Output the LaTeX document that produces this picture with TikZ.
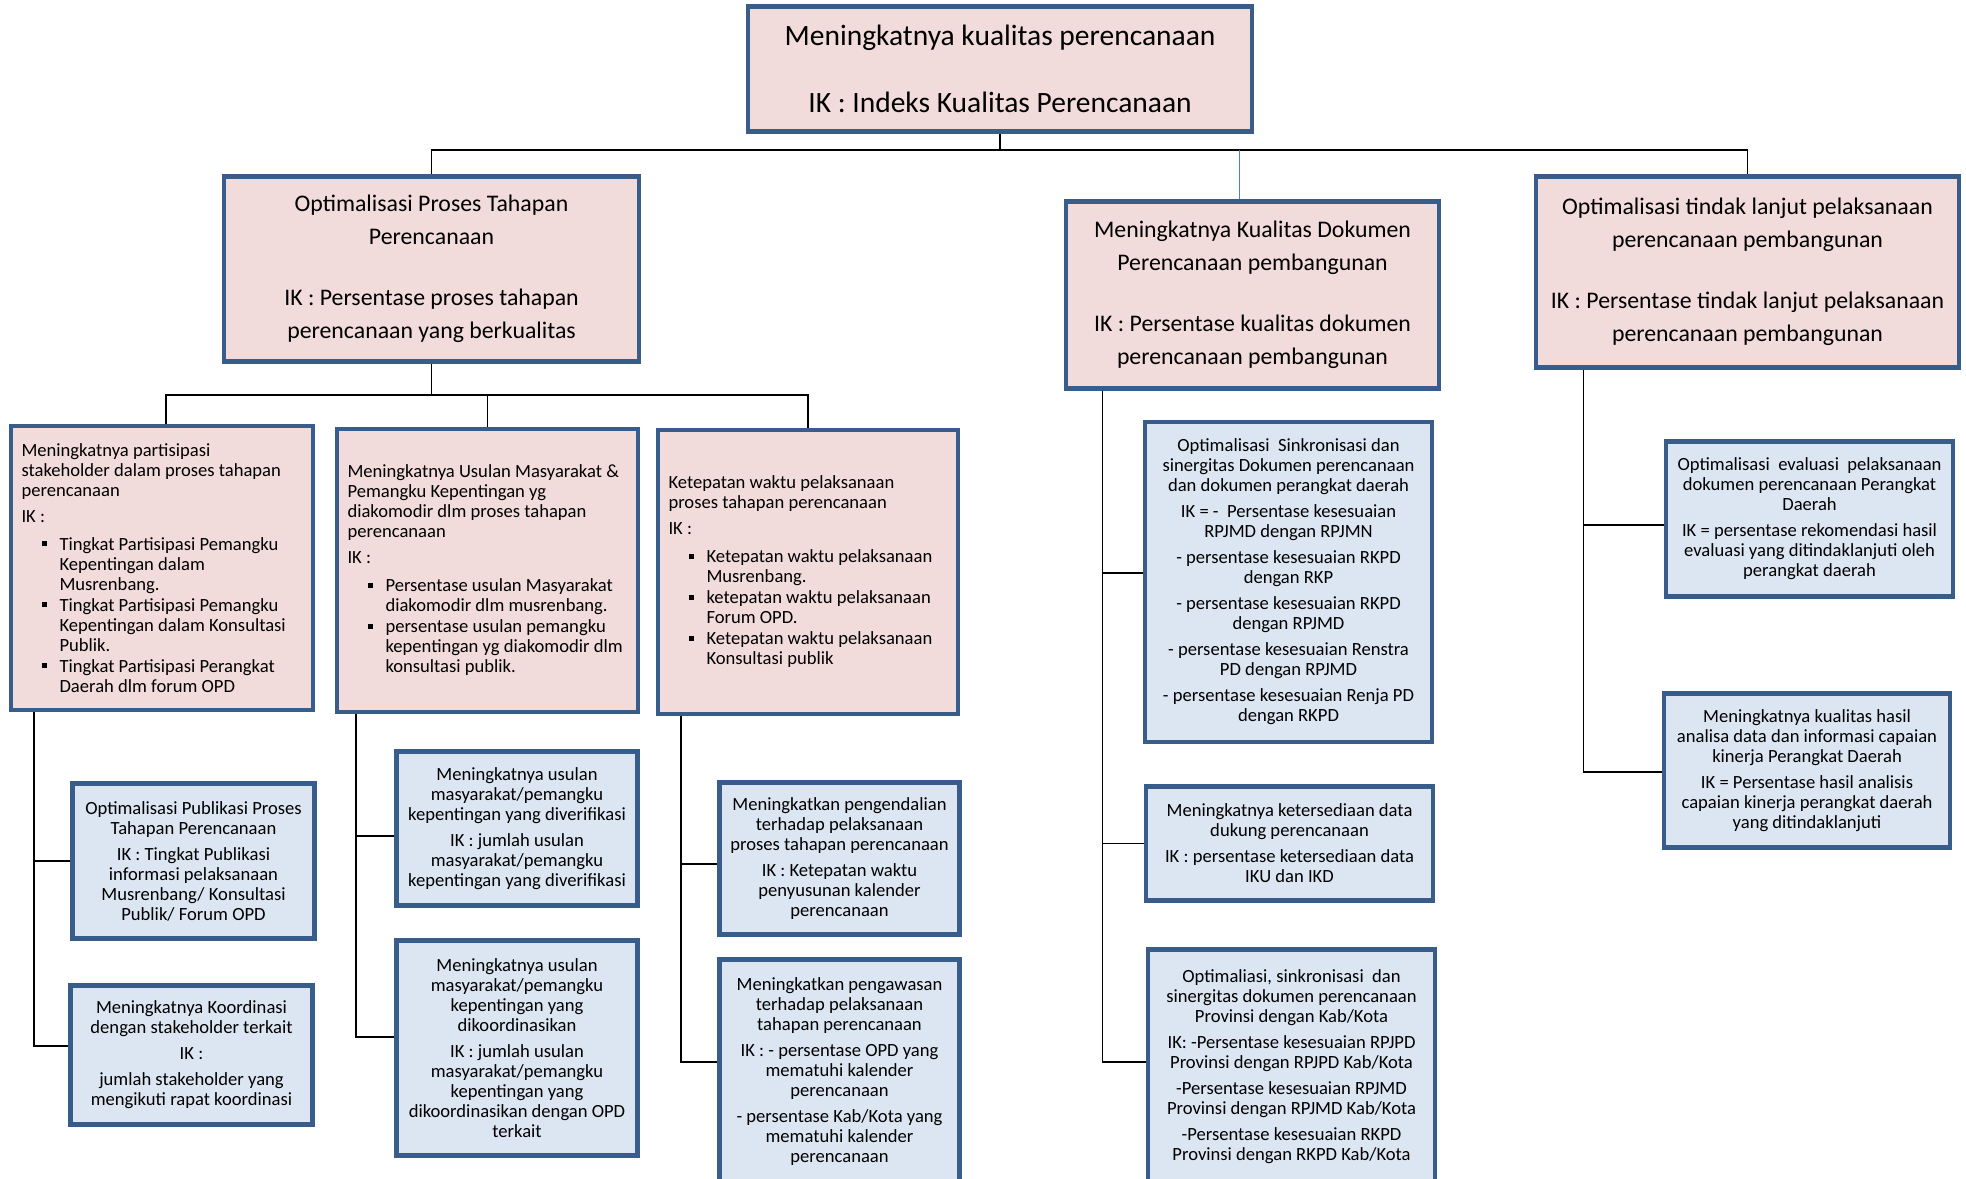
\documentclass[tikz,border=0pt]{standalone}
\usepackage{fontspec}
\setmainfont{Carlito}
\usepackage{tikz}
\usetikzlibrary{calc, positioning}

\definecolor{tepi}{HTML}{385D8A}
\definecolor{merahmuda}{HTML}{F2DCDB}
\definecolor{birumuda}{HTML}{DCE6F2}
\definecolor{garisbiru}{HTML}{4F81BD}

\newcommand{\butir}{\hspace*{20bp}\rule[4bp]{5bp}{5bp}\hspace*{13bp}}
\newcommand{\sambung}{\hspace*{38bp}}

\begin{document}
\begin{tikzpicture}[x=1bp, y=-1bp,
    kotak/.style={draw=tepi, line width=4.5bp, inner sep=0pt},
    atas/.style={kotak, fill=merahmuda, align=center, font=\fontsize{29.5bp}{37bp}\selectfont},
    tengah/.style={kotak, fill=merahmuda, align=center, font=\fontsize{23.8bp}{33bp}\selectfont},
    rincian/.style={kotak, fill=merahmuda, align=flush left, font=\fontsize{18.6bp}{20bp}\selectfont},
    biru/.style={kotak, fill=birumuda, align=center, font=\fontsize{18.6bp}{20bp}\selectfont},
    garis/.style={draw=black, line width=1.8bp},
    tipis/.style={draw=garisbiru, line width=1.2bp}]

    \useasboundingbox (0,0) rectangle (1966,1178);
    \clip (0,0) rectangle (1966,1178);

    % 1. Tujuan utama
    \node[atas, minimum width=505.5, minimum height=125.5] (top) at (1000,69)
        {Meningkatnya kualitas perencanaan\\[30bp]IK : Indeks Kualitas Perencanaan};

    % 2. Sasaran tingkat kedua
    \node[tengah, minimum width=416.5, minimum height=185.5] (A) at (431.5,269)
        {Optimalisasi Proses Tahapan\\Perencanaan\\[28bp]IK : Persentase proses tahapan\\perencanaan yang berkualitas};
    \node[tengah, minimum width=374.5, minimum height=187.5] (B) at (1252.5,295)
        {Meningkatnya Kualitas Dokumen\\Perencanaan pembangunan\\[28bp]IK : Persentase kualitas dokumen\\perencanaan pembangunan};
    \node[tengah, minimum width=424.5, minimum height=191.5] (C) at (1747.5,272)
        {Optimalisasi tindak lanjut pelaksanaan\\perencanaan pembangunan\\[28bp]IK : Persentase tindak lanjut pelaksanaan\\perencanaan pembangunan};

    % 3. Rincian di bawah A (rata kiri, berpoin)
    \node[rincian, minimum width=303.5, minimum height=285.5, text width=282] (A1) at (162,568)
        {Meningkatnya partisipasi\\stakeholder dalam proses tahapan\\perencanaan\\[6bp]
         IK :\\[8bp]
         \butir Tingkat Partisipasi Pemangku\\\sambung Kepentingan dalam\\\sambung Musrenbang.\\[1bp]
         \butir Tingkat Partisipasi Pemangku\\\sambung Kepentingan dalam Konsultasi\\\sambung Publik.\\[1bp]
         \butir Tingkat Partisipasi Perangkat\\\sambung Daerah dlm forum OPD};
    \node[rincian, minimum width=302.5, minimum height=284.5, text width=281] (A2) at (487.5,570.5)
        {Meningkatnya Usulan Masyarakat \&\\Pemangku Kepentingan yg\\diakomodir dlm proses tahapan\\perencanaan\\[6bp]
         IK :\\[8bp]
         \butir Persentase usulan Masyarakat\\\sambung diakomodir dlm musrenbang.\\[1bp]
         \butir persentase usulan pemangku\\\sambung kepentingan yg diakomodir dlm\\\sambung konsultasi publik.};
    \node[rincian, minimum width=301.5, minimum height=285.5, text width=280] (A3) at (808,572)
        {Ketepatan waktu pelaksanaan\\proses tahapan perencanaan\\[6bp]
         IK :\\[8bp]
         \butir Ketepatan waktu pelaksanaan\\\sambung Musrenbang.\\[1bp]
         \butir ketepatan waktu pelaksanaan\\\sambung Forum OPD.\\[1bp]
         \butir Ketepatan waktu pelaksanaan\\\sambung Konsultasi publik};

    % 4. Kotak biru tingkat bawah
    \node[biru, minimum width=242.5, minimum height=155.5] (A1a) at (193.5,861)
        {Optimalisasi Publikasi Proses\\Tahapan Perencanaan\\[6bp]IK : Tingkat Publikasi\\informasi pelaksanaan\\Musrenbang/ Konsultasi\\Publik/ Forum OPD};
    \node[biru, minimum width=242.5, minimum height=139.5] (A1b) at (191.5,1055)
        {Meningkatnya Koordinasi\\dengan stakeholder terkait\\[6bp]IK :\\[6bp]jumlah stakeholder yang\\mengikuti rapat koordinasi};
    \node[biru, minimum width=241.5, minimum height=154.5] (A2a) at (517,828.5)
        {Meningkatnya usulan\\masyarakat/pemangku\\kepentingan yang diverifikasi\\[6bp]IK : jumlah usulan\\masyarakat/pemangku\\kepentingan yang diverifikasi};
    \node[biru, minimum width=241.5, minimum height=215.5] (A2b) at (517,1048)
        {Meningkatnya usulan\\masyarakat/pemangku\\kepentingan yang\\dikoordinasikan\\[6bp]IK : jumlah usulan\\masyarakat/pemangku\\kepentingan yang\\dikoordinasikan dengan OPD\\terkait};
    \node[biru, minimum width=240.5, minimum height=152.5] (A3a) at (839.5,858.5)
        {Meningkatkan pengendalian\\terhadap pelaksanaan\\proses tahapan perencanaan\\[6bp]IK : Ketepatan waktu\\penyusunan kalender\\perencanaan};
    \node[biru, minimum width=240.5, minimum height=224.5] (A3b) at (839.5,1071.5)
        {Meningkatkan pengawasan\\terhadap pelaksanaan\\tahapan perencanaan\\[6bp]IK : - persentase OPD yang\\mematuhi kalender\\perencanaan\\[6bp]- persentase Kab/Kota yang\\mematuhi kalender\\perencanaan};

    \node[biru, minimum width=288.5, minimum height=321.5] (B1) at (1288.5,582)
        {Optimalisasi\ \ Sinkronisasi dan\\sinergitas Dokumen perencanaan\\dan dokumen perangkat daerah\\[6bp]IK = -\ \ Persentase kesesuaian\\RPJMD dengan RPJMN\\[6bp]- persentase kesesuaian RKPD\\dengan RKP\\[6bp]- persentase kesesuaian RKPD\\dengan RPJMD\\[6bp]- persentase kesesuaian Renstra\\PD dengan RPJMD\\[6bp]- persentase kesesuaian Renja PD\\dengan RKPD};
    \node[biru, minimum width=288.5, minimum height=114.5] (B2) at (1289.5,843.5)
        {Meningkatnya ketersediaan data\\dukung perencanaan\\[6bp]IK : persentase ketersediaan data\\IKU dan IKD};
    \node[biru, minimum width=288.5, minimum height=234.5] (B3) at (1291.5,1066.5)
        {Optimaliasi, sinkronisasi\ \ dan\\sinergitas dokumen perencanaan\\Provinsi dengan Kab/Kota\\[6bp]IK: -Persentase kesesuaian RPJPD\\Provinsi dengan RPJPD Kab/Kota\\[6bp]-Persentase kesesuaian RPJMD\\Provinsi dengan RPJMD Kab/Kota\\[6bp]-Persentase kesesuaian RKPD\\Provinsi dengan RKPD Kab/Kota};

    \node[biru, minimum width=288.5, minimum height=155.5] (C1) at (1809.5,519)
        {Optimalisasi\ \ evaluasi\ \ pelaksanaan\\dokumen perencanaan Perangkat\\Daerah\\[6bp]IK = persentase rekomendasi hasil\\evaluasi yang ditindaklanjuti oleh\\perangkat daerah};
    \node[biru, minimum width=287.5, minimum height=154.5] (C2) at (1807,770.5)
        {Meningkatnya kualitas hasil\\analisa data dan informasi capaian\\kinerja Perangkat Daerah\\[6bp]IK = Persentase hasil analisis\\capaian kinerja perangkat daerah\\yang ditindaklanjuti};

    % 5. Garis penghubung
    \coordinate (h1) at (0,150);
    \coordinate (h2) at (0,395);
    \draw[garis] (top.south) -- (top.south |- h1);
    \draw[garis] (A.north) -- (A.north |- h1) -- (C.north |- h1) -- (C.north);
    \draw[tipis] ([xshift=-13bp]B.north) -- ([xshift=-13bp]B.north |- h1);
    \draw[garis] (A.south) -- (A.south |- h2);
    \draw[garis] ([xshift=4bp]A1.north) -- ([xshift=4bp]A1.north |- h2) -- (A3.north |- h2) -- (A3.north);
    \draw[garis] (A2.north) -- (A2.north |- h2);

    \foreach \induk/\dx/\anak/\dy in {A1/25.75/A1a/0, A1/25.75/A1b/9, A2/21.75/A2a/-7.5,
        A2/21.75/A2b/11, A3/25.75/A3a/-5.5, A3/25.75/A3b/9.5, B/38.75/B1/9,
        B/38.75/B2/0, B/38.75/B3/4.5, C/49.75/C1/-6, C/49.75/C2/-1.5} {
        \draw[garis] ([xshift=\dx bp]\induk.south west) |- ([yshift=\dy bp]\anak.west);
    }

\end{tikzpicture}
\end{document}
